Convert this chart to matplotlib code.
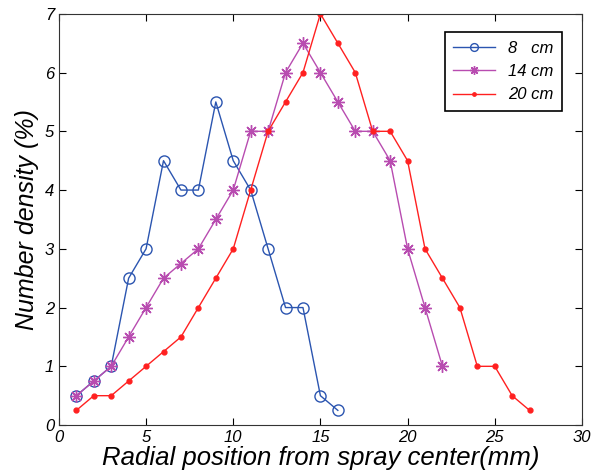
import matplotlib
matplotlib.use('Agg')
import matplotlib.pyplot as plt

plt.rcParams['font.family'] = ['Liberation Sans', 'DejaVu Sans']

x8 = list(range(1, 17))
y8 = [0.5, 0.75, 1, 2.5, 3, 4.5, 4, 4, 5.5, 4.5, 4, 3, 2, 2, 0.5, 0.25]

x14 = list(range(1, 23))
y14 = [0.5, 0.75, 1, 1.5, 2, 2.5, 2.75, 3, 3.5, 4, 5, 5, 6, 6.5, 6, 5.5,
       5, 5, 4.5, 3, 2, 1]

x20 = list(range(1, 28))
y20 = [0.25, 0.5, 0.5, 0.75, 1, 1.25, 1.5, 2, 2.5, 3, 4, 5, 5.5, 6, 7, 6.5,
       6, 5, 5, 4.5, 3, 2.5, 2, 1, 1, 0.5, 0.25]

labels = ['8   cm', '14 cm', '20 cm']

fig = plt.figure(figsize=(5.95, 4.76), dpi=100)
ax = fig.add_axes([0.099, 0.107, 0.879, 0.864])

ax.plot(x8, y8, color='#2b55b0', lw=1, marker='o', ms=8, mfc='none', mew=1, label=labels[0])
ax.plot(x14, y14, color='#b84cb0', lw=1, marker=(8, 2, 0), ms=9, mew=1, label=labels[1])
ax.plot(x20, y20, color='#ff2020', lw=1, marker='.', ms=7, label=labels[2])

ax.set_xlim(0, 30)
ax.set_ylim(0, 7)
ax.set_xticks(range(0, 31, 5))
ax.set_yticks(range(0, 8))
ax.tick_params(direction='in', top=True, right=True, labelsize=12, length=5)
for t in ax.get_xticklabels() + ax.get_yticklabels():
    t.set_fontstyle('italic')
for s in ax.spines.values():
    s.set_color('#333333')

ax.set_xlabel('Radial position from spray center(mm)', fontsize=18.5, style='italic', labelpad=1)
ax.set_ylabel('Number density (%)', fontsize=18, style='italic', labelpad=4)

leg = ax.legend(loc='upper right', bbox_to_anchor=(0.978, 0.975), fancybox=False,
                edgecolor='black', framealpha=1, prop={'style': 'italic', 'size': 12},
                handlelength=2.5, borderpad=0.5, labelspacing=0.5, markerscale=0.7)
leg.get_frame().set_linewidth(1.2)

fig.savefig('out.png', dpi=100)
